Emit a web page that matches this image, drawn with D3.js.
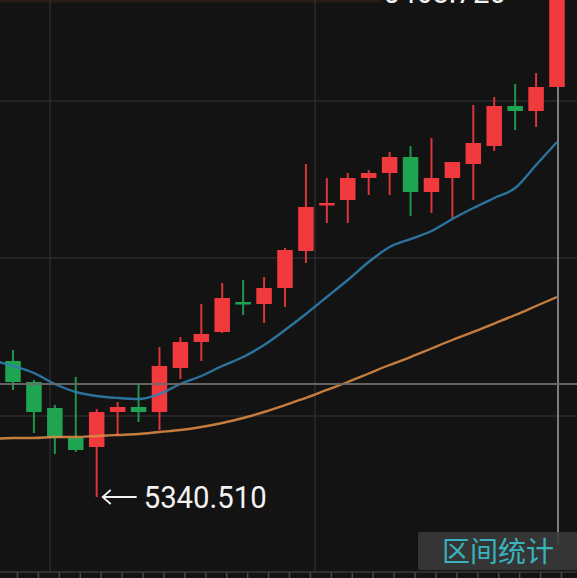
<!DOCTYPE html>
<html><head><meta charset="utf-8">
<script src="https://cdn.jsdelivr.net/npm/d3@7"></script>
<style>html,body{margin:0;padding:0;background:#131313;overflow:hidden}</style>
</head><body><svg id="c" width="577" height="578"></svg>
<script>
// ---- data ----
const candleIdx = [0,1,2,3,4,5,6,7,8,9,10,11,12,13,14,15,16,17,18,19,20,21,22,23,24,25,26];
const opens  = [5374.90,5369.59,5363.02,5355.43,5353.15,5362.00,5363.27,5362.00,5373.13,5379.71,5382.24,5389.82,5389.32,5393.36,5402.72,5414.35,5415.62,5421.18,5422.44,5426.49,5417.64,5421.18,5424.72,5429.27,5439.39,5438.12,5444.19];
const highs  = [5377.68,5370.10,5363.77,5370.86,5362.76,5364.53,5369.34,5378.44,5380.97,5389.32,5394.63,5395.38,5396.14,5403.48,5424.72,5421.18,5422.44,5423.20,5427.75,5429.27,5431.29,5425.22,5439.64,5441.66,5444.95,5447.73,5468.72];
const lows   = [5367.57,5356.69,5351.38,5351.89,5340.51,5356.19,5359.48,5357.45,5370.35,5374.90,5381.98,5386.53,5384.51,5388.56,5399.68,5409.80,5409.80,5416.88,5416.88,5411.57,5412.33,5411.06,5415.62,5428.01,5433.32,5434.08,5444.19];
const closes = [5369.59,5362.00,5355.43,5352.40,5362.00,5363.27,5362.00,5373.64,5379.71,5381.73,5390.83,5389.32,5393.36,5402.97,5413.85,5414.86,5421.18,5422.44,5426.49,5417.64,5421.18,5425.22,5430.03,5439.39,5438.12,5444.19,5467.46];
// moving averages, starting one bar before the first visible candle
const maIdx  = [-1,0,1,2,3,4,5,6,7,8,9,10,11,12,13,14,15,16,17,18,19,20,21,22,23,24,25,26];
const maShort= [5375.15,5373.64,5371.87,5369.09,5367.06,5366.05,5365.55,5365.29,5366.56,5369.09,5371.11,5373.64,5375.91,5378.95,5382.74,5386.79,5391.09,5395.38,5399.94,5403.73,5405.75,5407.78,5410.81,5413.59,5416.12,5418.65,5424.47,5430.28];
const maLong = [5355.18,5355.43,5355.43,5355.68,5355.68,5355.94,5356.19,5356.44,5356.95,5357.45,5358.21,5359.22,5360.49,5362.00,5363.77,5365.55,5367.57,5369.59,5371.74,5373.89,5375.91,5378.06,5380.21,5382.24,5384.38,5386.53,5388.81,5391.09];
const lowLabel  = "5340.510";
const highLabel = "5468.720";
const crossPrice = 5369.09;
const crossIdx = 26;
const buttonText = "区间统计";

// ---- scales ----
const W = 577, H = 578;
const x = d3.scaleLinear().domain([0, 26]).range([13, 557]);
const y = d3.scaleLinear().domain([5340.51, 5468.72]).range([497, -10]);

const svg = d3.select("#c");
svg.append("rect").attr("width", W).attr("height", H).attr("fill", "#131313");
svg.append("rect").attr("x",0).attr("y",0).attr("width",380).attr("height",2.5).attr("fill","#2a1b17");

// grid
const g = svg.append("g").attr("stroke", "#2b2b2b").attr("stroke-width", 1.5);
[101, 258, 416].forEach(py => g.append("line").attr("x1",0).attr("x2",W).attr("y1",py).attr("y2",py));
[50, 315].forEach(px => g.append("line").attr("x1",px).attr("x2",px).attr("y1",0).attr("y2",572));

// bottom axis
const axis = d3.axisBottom(x).tickValues(candleIdx).tickSize(6).tickFormat("");
const ax = svg.append("g").attr("transform","translate(4,572)").call(axis);
ax.select(".domain").remove();
ax.selectAll(".tick line").attr("stroke","#4a4a4a").attr("stroke-width",1.5);
svg.append("line").attr("x1",0).attr("x2",W).attr("y1",572).attr("y2",572).attr("stroke","#3a3a3a").attr("stroke-width",1.5);

// vertical crosshair
svg.append("line").attr("x1",x(crossIdx)+1).attr("x2",x(crossIdx)+1).attr("y1",0).attr("y2",545)
  .attr("stroke","#7c7c7c").attr("stroke-width",2);

// candles
const data = candleIdx.map((i,k)=>({i, o:opens[k], h:highs[k], l:lows[k], c:closes[k]}));
const red = "#f03a3e", green = "#1fa552";
const bw = 15.5;
const cg = svg.append("g");
cg.selectAll("line.w").data(data).join("line").attr("class","w")
  .attr("x1", d=>x(d.i)).attr("x2", d=>x(d.i))
  .attr("y1", d=>y(d.h)).attr("y2", d=>y(d.l))
  .attr("stroke", d=> d.c>=d.o ? red : green).attr("stroke-width", 2).attr("opacity",0.9);
cg.selectAll("rect.b").data(data).join("rect").attr("class","b")
  .attr("x", d=>x(d.i)-bw/2).attr("width", bw)
  .attr("y", d=>y(Math.max(d.o,d.c)))
  .attr("height", d=>Math.max(2.5, Math.abs(y(d.o)-y(d.c))))
  .attr("fill", d=> d.c>=d.o ? red : green);

// MA lines
const line = d3.line().x(d=>x(d[0])).y(d=>y(d[1])).curve(d3.curveMonotoneX);
svg.append("path").attr("d", line(maIdx.map((i,k)=>[i, maLong[k]])))
  .attr("fill","none").attr("stroke","#d98a45").attr("stroke-width",2.4).attr("opacity",0.9);
svg.append("path").attr("d", line(maIdx.map((i,k)=>[i, maShort[k]])))
  .attr("fill","none").attr("stroke","#2f7eae").attr("stroke-width",2.4).attr("opacity",0.9);

// horizontal crosshair
svg.append("line").attr("x1",0).attr("x2",W).attr("y1",y(crossPrice)).attr("y2",y(crossPrice))
  .attr("stroke","#6c6c6c").attr("stroke-width",2).attr("opacity",0.9);

// low annotation
const lowK = lows.indexOf(d3.min(lows));
const lx = x(candleIdx[lowK]), ly = y(lows[lowK]);
const arrow = svg.append("g").attr("stroke","#f2f2f2").attr("stroke-width",1.8).attr("fill","none");
arrow.append("line").attr("x1",lx+6).attr("x2",lx+40).attr("y1",ly).attr("y2",ly);
arrow.append("path").attr("d",`M${lx+14},${ly-7}L${lx+6},${ly}L${lx+14},${ly+7}`);
svg.append("text").attr("x",lx+47).attr("y",ly+10.5)
  .attr("font-family","Roboto, 'Noto Sans', sans-serif").attr("font-size",31)
  .attr("textLength",123).attr("lengthAdjust","spacingAndGlyphs")
  .attr("fill","#f2f2f2").text(lowLabel);

// high annotation (mostly cut off above)
const hiK = highs.indexOf(d3.max(highs));
const hy = y(highs[hiK]);
svg.append("text").attr("x",383).attr("y",hy+13)
  .attr("font-family","Roboto, 'Noto Sans', sans-serif").attr("font-size",31)
  .attr("textLength",123).attr("lengthAdjust","spacingAndGlyphs")
  .attr("fill","#f2f2f2").text(highLabel);

// button
svg.append("rect").attr("x",418).attr("y",532).attr("width",170).attr("height",38).attr("rx",2)
  .attr("fill","#3a3a3a").attr("opacity",0.88);
svg.append("text").attr("x",498).attr("y",562).attr("text-anchor","middle")
  .attr("font-family","'Noto Sans CJK SC', sans-serif").attr("font-size",28)
  .attr("fill","#37b3bd").text(buttonText);
</script>
</body></html>
